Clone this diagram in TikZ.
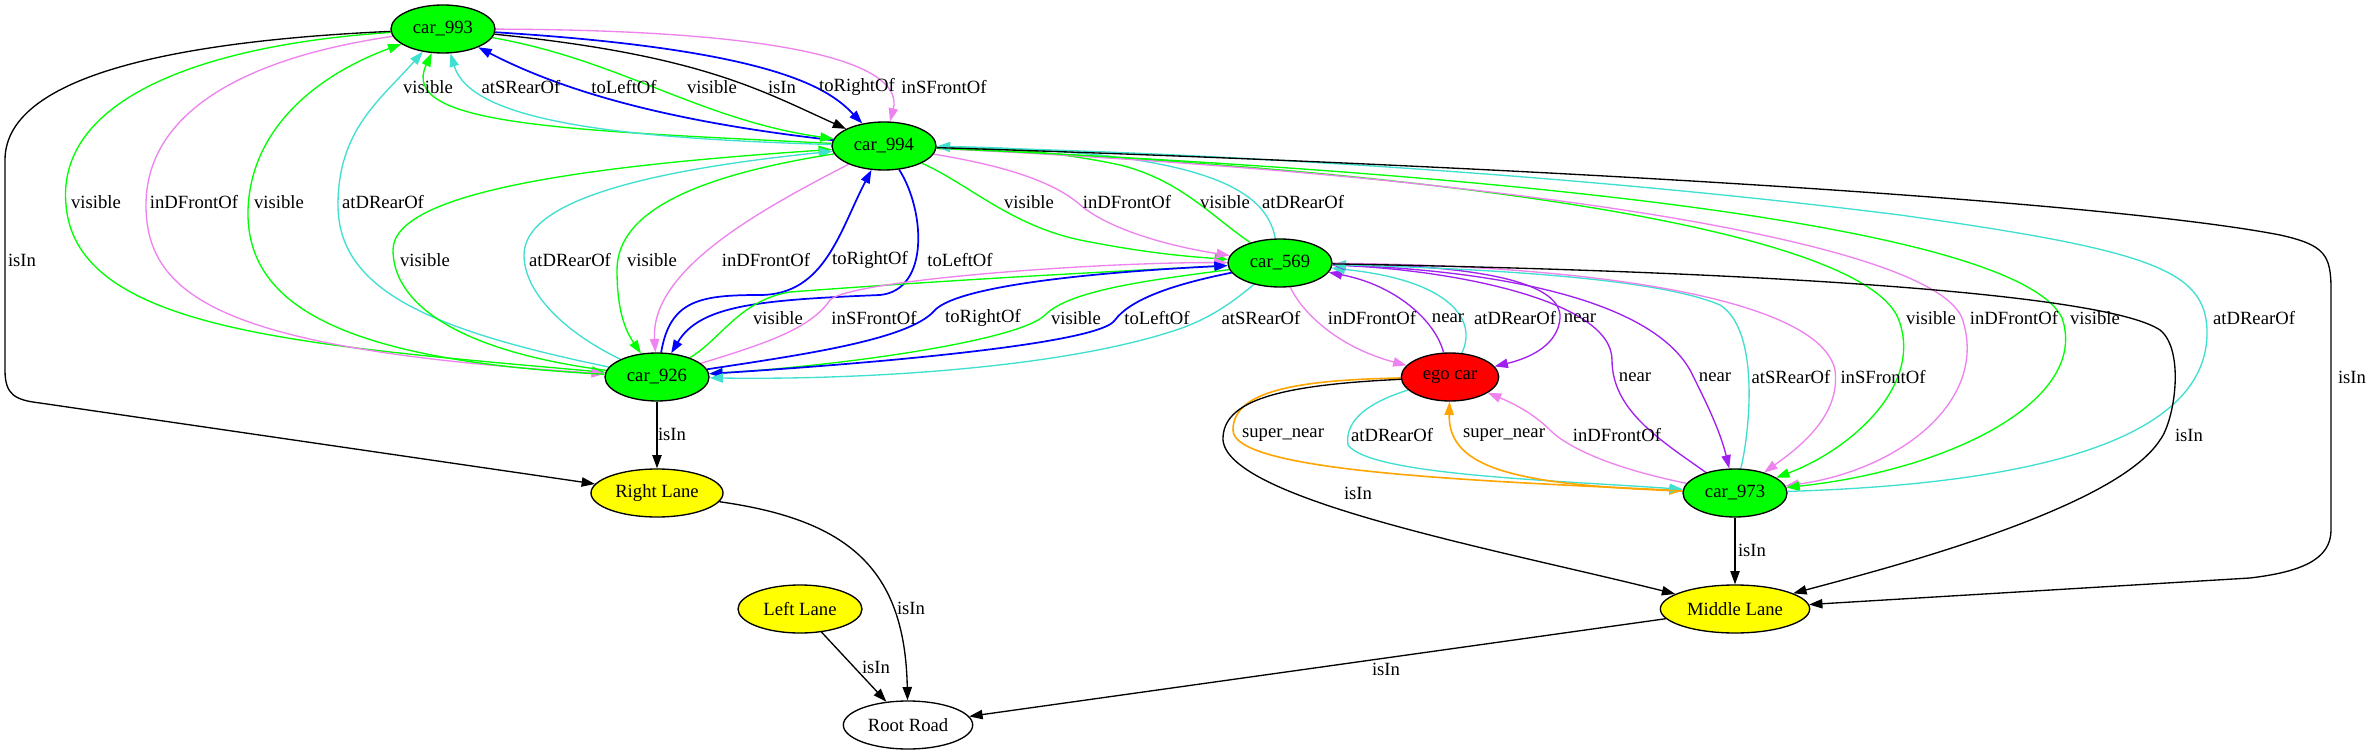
\documentclass[tikz,border=0pt]{standalone}
\usepackage{fontspec}
\setmainfont{Liberation Serif}
\usetikzlibrary{arrows.meta,shapes.geometric}
\pgfdeclarelayer{bg}
\pgfdeclarelayer{edges}
\pgfsetlayers{bg,edges,main}
\definecolor{gvgreen}{HTML}{00FF00}
\definecolor{gvblue}{HTML}{0000FF}
\definecolor{gvturq}{HTML}{40E0D0}
\definecolor{gvviolet}{HTML}{EE82EE}
\definecolor{gvpurple}{HTML}{A020F0}
\definecolor{gvorange}{HTML}{FFA500}
\definecolor{gvred}{HTML}{FF0000}
\definecolor{gvyellow}{HTML}{FFFF00}
\begin{document}
\begin{tikzpicture}[x=0.75pt,y=-0.75pt,
  font=\fontsize{14}{16}\selectfont,
  carnode/.style={ellipse, draw=black, line width=1pt, fill=gvgreen, minimum width=78pt, minimum height=36pt, inner sep=0pt},
  egonode/.style={carnode, fill=gvred, minimum width=73pt},
  lanenode/.style={ellipse, draw=black, line width=1pt, fill=gvyellow, minimum height=36pt, inner sep=0pt},
  roadnode/.style={lanenode, fill=white},
  lbl/.style={inner sep=0pt},
  edg/.style={-{Triangle[length=10pt,width=7pt]}, line width=1pt},
  eg/.style={edg, draw=gvgreen},
  eb/.style={edg, draw=gvblue, line width=1.3pt},
  ec/.style={edg, draw=gvturq},
  ev/.style={edg, draw=gvviolet},
  ep/.style={edg, draw=gvpurple},
  eo/.style={edg, draw=gvorange, line width=1.2pt},
  ek/.style={edg, draw=black}
]
\begin{pgfonlayer}{bg}
\fill[white] (0,0) rectangle (2372,755);
\end{pgfonlayer}
\path[use as bounding box] (0,0) rectangle (2372,755);

% nodes
\node[carnode] (n993) at (443,29) {car\_993};
\node[carnode] (n994) at (884,146) {car\_994};
\node[carnode] (n569) at (1280,263) {car\_569};
\node[carnode] (n926) at (657,377) {car\_926};
\node[egonode] (ego) at (1450,377) {ego car};
\node[carnode] (n973) at (1735,493) {car\_973};
\node[lanenode, minimum width=99pt] (rl) at (657,493) {Right Lane};
\node[lanenode, minimum width=93pt] (ll) at (800,609) {Left Lane};
\node[lanenode, minimum width=112pt] (ml) at (1735,609) {Middle Lane};
\node[roadnode, minimum width=97pt] (rr) at (908,725) {Root Road};

\begin{pgfonlayer}{edges}
% car_993 <-> car_994
\draw[eg] (n994) .. controls (560,130) and (398,125) .. (n993);
\draw[ec] (n994) .. controls (600,138) and (470,118) .. (n993);
\draw[eb] (n994) .. controls (700,125) and (580,100) .. (n993);
\draw[eg] (n993) .. controls (620,60) and (700,120) .. (n994);
\draw[ek] (n993) .. controls (700,55) and (760,90) .. (n994);
\draw[eb] (n993) .. controls (780,50) and (830,90) .. (n994);
\draw[ev] (n993) .. controls (820,30) and (903,70) .. (n994);

% car_993 <-> car_926
\draw[eg] (n993) .. controls (200,45) and (56,100) .. (66,205) .. controls (76,330) and (300,345) .. (n926);
\draw[ev] (n993) .. controls (230,60) and (146,120) .. (146,205) .. controls (146,300) and (230,350) .. (n926);
\draw[eg] (n926) .. controls (330,360) and (246,300) .. (248,210) .. controls (251,120) and (330,70) .. (n993);
\draw[ec] (n926) .. controls (430,330) and (338,290) .. (338,205) .. controls (338,130) and (380,100) .. (n993);

% car_993 -> Right Lane
\draw[ek] (n993) .. controls (200,40) and (5,70) .. (5,160) -- (5,370) .. controls (5,395) and (15,400) .. (40,403) -- (rl);

% car_994 <-> car_926
\draw[eg] (n926) .. controls (450,350) and (393,300) .. (393,250) .. controls (393,190) and (600,165) .. (n994);
\draw[ec] (n926) .. controls (560,330) and (524,290) .. (524,255) .. controls (524,200) and (650,170) .. (n994);
\draw[eg] (n994) .. controls (700,175) and (617,210) .. (617,270) .. controls (617,310) and (625,330) .. (n926);
\draw[ev] (n994) .. controls (760,210) and (650,270) .. (n926);
\draw[eb] (n926) .. controls (670,300) and (700,295) .. (760,295) .. controls (825,295) and (840,230) .. (n994);
\draw[eb] (n994) .. controls (925,210) and (930,290) .. (880,295) .. controls (760,300) and (700,305) .. (n926);

% car_994 <-> car_569
\draw[eg] (n994) .. controls (970,185) and (1010,225) .. (1080,240) .. controls (1140,252) and (1180,256) .. (n569);
\draw[ev] (n994) .. controls (1000,165) and (1050,180) .. (1078,203) .. controls (1110,232) and (1180,248) .. (n569);
\draw[eg] (n569) .. controls (1210,215) and (1180,180) .. (1120,165) .. controls (1060,152) and (1000,148) .. (n994);
\draw[ec] (n569) .. controls (1268,200) and (1230,170) .. (1100,155) .. controls (1020,148) and (980,147) .. (n994);

% car_994 <-> car_973, car_994 -> Middle Lane
\draw[eg] (n994) .. controls (1450,170) and (1860,230) .. (1898,318) .. controls (1925,385) and (1850,450) .. (n973);
\draw[ev] (n994) .. controls (1500,175) and (1930,240) .. (1962,318) .. controls (1990,400) and (1900,470) .. (n973);
\draw[eg] (n994) .. controls (1550,175) and (2020,230) .. (2062,318) .. controls (2090,400) and (1950,470) .. (n973);
\draw[ec] (n973) .. controls (2000,485) and (2210,450) .. (2207,330) .. controls (2205,270) and (2150,250) .. (1900,215) .. controls (1500,165) and (1100,150) .. (n994);
\draw[ek] (n994) .. controls (1500,165) and (2100,200) .. (2280,235) .. controls (2325,245) and (2331,255) .. (2331,290) -- (2331,530) .. controls (2331,560) and (2300,572) .. (2250,578) -- (ml);

% car_926 <-> car_569
\draw[eg] (n926) .. controls (720,340) and (740,300) .. (790,292) .. controls (950,280) and (1100,272) .. (n569);
\draw[ev] (n926) .. controls (760,345) and (810,330) .. (830,300) .. controls (850,280) and (1100,262) .. (n569);
\draw[eb] (n926) .. controls (800,355) and (910,340) .. (935,310) .. controls (960,285) and (1100,272) .. (n569);
\draw[eg] (n569) .. controls (1150,280) and (1070,290) .. (1045,315) .. controls (1020,340) and (850,365) .. (n926);
\draw[eb] (n569) .. controls (1170,285) and (1130,300) .. (1115,320) .. controls (1100,345) and (850,365) .. (n926);
\draw[ec] (n569) .. controls (1235,300) and (1210,320) .. (1170,332) .. controls (1050,370) and (850,380) .. (n926);

% car_569 <-> ego car
\draw[ev] (n569) .. controls (1298,305) and (1330,345) .. (ego);
\draw[ep] (ego) .. controls (1435,320) and (1395,285) .. (n569);
\draw[ec] (ego) .. controls (1478,320) and (1450,280) .. (n569);
\draw[ep] (n569) .. controls (1470,265) and (1562,280) .. (1560,318) .. controls (1558,345) and (1530,358) .. (ego);

% car_569 <-> car_973, car_569 -> Middle Lane
\draw[ep] (n973) .. controls (1660,440) and (1612,410) .. (1612,360) .. controls (1612,300) and (1450,270) .. (n569);
\draw[ep] (n569) .. controls (1500,270) and (1650,300) .. (1690,370) .. controls (1705,400) and (1720,430) .. (n973);
\draw[ec] (n973) .. controls (1750,430) and (1760,330) .. (1720,305) .. controls (1650,275) and (1450,268) .. (n569);
\draw[ev] (n569) .. controls (1600,265) and (1820,300) .. (1835,370) .. controls (1840,410) and (1810,440) .. (n973);
\draw[ek] (n569) .. controls (1700,270) and (2100,290) .. (2160,330) .. controls (2185,350) and (2175,420) .. (2160,440) .. controls (2115,510) and (1880,570) .. (ml);

% ego car <-> car_973, ego car -> Middle Lane
\draw[eo] (ego) .. controls (1300,380) and (1233,390) .. (1233,430) .. controls (1233,470) and (1450,480) .. (n973);
\draw[ec] (ego) .. controls (1360,405) and (1345,425) .. (1348,445) .. controls (1370,475) and (1550,480) .. (n973);
\draw[eo] (n973) .. controls (1520,485) and (1448,470) .. (ego);
\draw[ev] (n973) .. controls (1620,470) and (1570,450) .. (1550,430) .. controls (1530,410) and (1505,400) .. (ego);
\draw[ek] (ego) .. controls (1280,385) and (1222,400) .. (1223,440) .. controls (1228,500) and (1500,550) .. (ml);

% isIn edges below
\draw[ek] (n973) -- (ml);
\draw[ek] (n926) -- (rl);
\draw[ek] (rl) .. controls (850,520) and (905,570) .. (rr);
\draw[ek] (ll) -- (rr);
\draw[ek] (ml) -- (rr);
\end{pgfonlayer}

% labels
\node[lbl] (t1) at (428,87) {visible};
\node[lbl] (t2) at (521,87) {atSRearOf};
\node[lbl] (t3) at (624,87) {toLeftOf};
\node[lbl] (t4) at (712,87) {visible};
\node[lbl] (t5) at (782,87) {isIn};
\node[lbl] (t6) at (857,87) {toRightOf};
\node[lbl] (t7) at (944,87) {inSFrontOf};
\node[lbl] (t8) at (96,202) {visible};
\node[lbl] (t9) at (194,202) {inDFrontOf};
\node[lbl] (t10) at (279,202) {visible};
\node[lbl] (t11) at (383,202) {atDRearOf};
\node[lbl] (t12) at (22,260) {isIn};
\node[lbl] (t13) at (425,260) {visible};
\node[lbl] (t14) at (570,260) {atDRearOf};
\node[lbl] (t15) at (652,260) {visible};
\node[lbl] (t16) at (766,260) {inDFrontOf};
\node[lbl] (t17) at (870,260) {toRightOf};
\node[lbl] (t18) at (960,260) {toLeftOf};
\node[lbl] (t19) at (1029,202) {visible};
\node[lbl] (t20) at (1127,202) {inDFrontOf};
\node[lbl] (t21) at (1225,202) {visible};
\node[lbl] (t22) at (1303,202) {atDRearOf};
\node[lbl] (t23) at (1931,318) {visible};
\node[lbl] (t24) at (2014,318) {inDFrontOf};
\node[lbl] (t25) at (2095,318) {visible};
\node[lbl] (t26) at (2254,318) {atDRearOf};
\node[lbl] (t27) at (2352,377) {isIn};
\node[lbl] (t28) at (778,318) {visible};
\node[lbl] (t29) at (874,318) {inSFrontOf};
\node[lbl] (t30) at (983,318) {toRightOf};
\node[lbl] (t31) at (1076,318) {visible};
\node[lbl] (t32) at (1157,318) {toLeftOf};
\node[lbl] (t33) at (1261,318) {atSRearOf};
\node[lbl] (t34) at (1372,318) {inDFrontOf};
\node[lbl] (t35) at (1448,318) {near};
\node[lbl] (t36) at (1515,318) {atDRearOf};
\node[lbl] (t37) at (1580,318) {near};
\node[lbl] (t38) at (1635,377) {near};
\node[lbl] (t39) at (1715,377) {near};
\node[lbl] (t40) at (1791,377) {atSRearOf};
\node[lbl] (t41) at (1883,377) {inSFrontOf};
\node[lbl] (t42) at (2189,435) {isIn};
\node[lbl] (t43) at (1283,435) {super\_near};
\node[lbl] (t44) at (1392,435) {atDRearOf};
\node[lbl] (t45) at (1504,435) {super\_near};
\node[lbl] (t46) at (1617,435) {inDFrontOf};
\node[lbl] (t47) at (1358,493) {isIn};
\node[lbl] (t48) at (1752,550) {isIn};
\node[lbl] (t49) at (672,434) {isIn};
\node[lbl] (t50) at (911,608) {isIn};
\node[lbl] (t51) at (876,667) {isIn};
\node[lbl] (t52) at (1386,669) {isIn};
\end{tikzpicture}
\end{document}
